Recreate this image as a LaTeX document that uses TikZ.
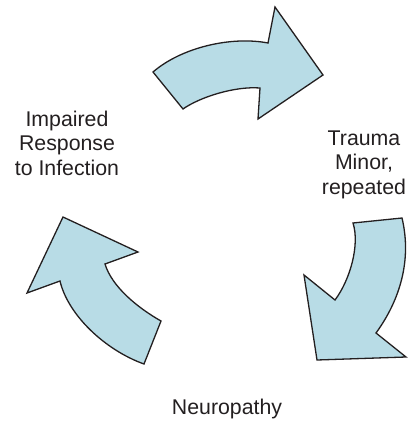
\documentclass[tikz,border=0pt]{standalone}
\usepackage{fontspec}
\setmainfont{Liberation Sans}
\definecolor{arrowfill}{RGB}{184,220,230}
\definecolor{ink}{RGB}{35,31,32}
\begin{document}
\begin{tikzpicture}[x=1pt,y=-1pt,
  cyclearrow/.style={fill=arrowfill,draw=ink,line width=1.3pt,line join=miter},
  stage/.style={text=ink,align=center,anchor=base,inner sep=0pt,
    font=\fontsize{21.3}{24.5}\selectfont}]
\useasboundingbox (0,0) rectangle (411,421);

% stage labels (base anchor sits on the last line)
\node[stage] (impaired) at (67,175) {Impaired\\Response\\to Infection};
\node[stage] (trauma) at (364,194) {Trauma\\Minor,\\repeated};
\node[stage] (neuro) at (227,414) {Neuropathy};

% top arrow: infection -> trauma
\draw[cyclearrow] (153,72) .. controls (182,47) and (232,36) .. (268,43)
  -- (275,7) -- (323,75) -- (258,119) -- (260,88)
  .. controls (235,86) and (200,97) .. (183,109) -- cycle;

% right arrow: trauma -> neuropathy
\draw[cyclearrow] (402,218) .. controls (412,260) and (400,300) .. (376,333)
  -- (406,357) -- (317,360) -- (304,275) -- (335,300)
  .. controls (350,280) and (360,245) .. (353,223) -- cycle;

% left arrow: neuropathy -> infection
\draw[cyclearrow] (144,364) .. controls (105,350) and (68,315) .. (60,281)
  -- (27,293) -- (63,217) -- (138,252) -- (105,264)
  .. controls (112,287) and (138,308) .. (161,321) -- cycle;
\end{tikzpicture}
\end{document}
